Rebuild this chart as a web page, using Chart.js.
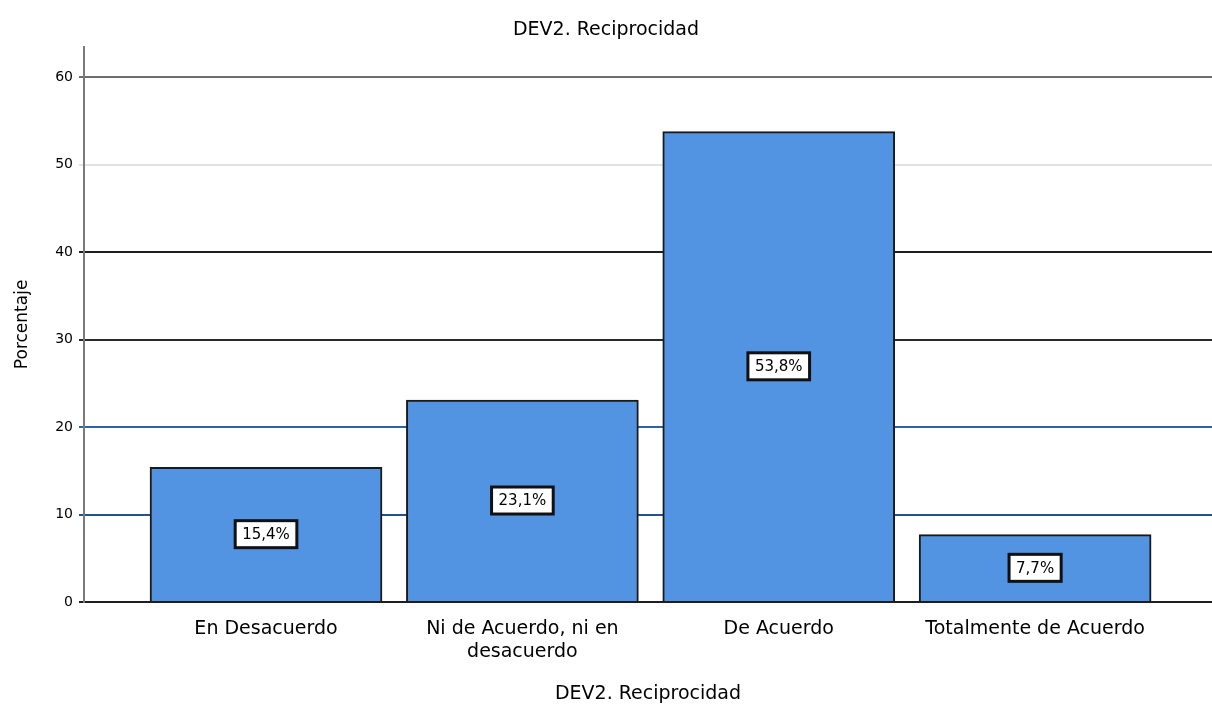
<!DOCTYPE html>
<html>
<head>
<meta charset="utf-8">
<script src="https://cdn.jsdelivr.net/npm/chart.js@4/dist/chart.umd.min.js"></script>
<style>
  html, body { margin: 0; padding: 0; background: #fff; }
  #wrap { width: 1212px; height: 711px; }
</style>
</head>
<body>
<div id="wrap"><canvas id="c" width="1212" height="711"></canvas></div>
<script>
// Categories and percentages
const categories = [
  "En Desacuerdo",
  ["Ni de Acuerdo, ni en", "desacuerdo"],
  "De Acuerdo",
  "Totalmente de Acuerdo"
];
const percentages = [15.4, 23.1, 53.8, 7.7];
const percentLabels = ["15,4%", "23,1%", "53,8%", "7,7%"];
const yTicks = [0, 10, 20, 30, 40, 50, 60];

const FONT = "'DejaVu Sans', 'Liberation Sans', Arial, sans-serif";

// gridline colours, one per y tick value
const gridColours = { 0: "#1e1e1e", 10: "#24528c", 20: "#2c62a6", 30: "#2a2a2a", 40: "#1e1e1e", 50: "#e2e2e2", 60: "#6e6e6e" };

// boxed value labels drawn in the middle of each bar
const valueBoxes = {
  id: "valueBoxes",
  afterDatasetsDraw(chart) {
    const ctx = chart.ctx;
    const meta = chart.getDatasetMeta(0);
    ctx.save();
    ctx.font = "15px " + FONT;
    ctx.textAlign = "center";
    ctx.textBaseline = "middle";
    meta.data.forEach((bar, i) => {
      const txt = percentLabels[i];
      const cy = (bar.y + bar.base) / 2;
      const w = ctx.measureText(txt).width + 14;
      const h = 27;
      ctx.fillStyle = "#ffffff";
      ctx.fillRect(bar.x - w / 2, cy - h / 2, w, h);
      ctx.lineWidth = 3;
      ctx.strokeStyle = "#111";
      ctx.strokeRect(bar.x - w / 2, cy - h / 2, w, h);
      ctx.fillStyle = "#000";
      ctx.fillText(txt, bar.x, cy + 1);
    });
    ctx.restore();
  }
};

new Chart(document.getElementById("c"), {
  type: "bar",
  data: {
    datasets: [{
      data: percentages.map((v, i) => ({ x: i, y: v })),
      backgroundColor: "#5294e2",
      borderColor: "#1a1a1a",
      borderWidth: 2,
      borderSkipped: "bottom",
      barThickness: 232
    }]
  },
  options: {
    responsive: false,
    animation: false,
    layout: { padding: { left: 0, right: 0, top: 0, bottom: 0 } },
    plugins: {
      legend: { display: false },
      tooltip: { enabled: false },
      title: {
        display: true,
        text: "DEV2. Reciprocidad",
        color: "#000",
        font: { family: FONT, size: 19, weight: "normal" },
        padding: { top: 19, bottom: 5 }
      }
    },
    scales: {
      x: {
        type: "linear",
        offset: false,
        min: -0.71,
        max: 3.69,
        afterBuildTicks: s => { s.ticks = categories.map((c, i) => ({ value: i })); },
        afterFit: s => { s.height = 109; },
        grid: { display: false, drawTicks: false },
        border: { display: false },
        ticks: {
          autoSkip: false,
          maxRotation: 0,
          padding: 16,
          color: "#000",
          font: { family: FONT, size: 19 },
          callback: v => categories[v]
        },
        title: {
          display: true,
          text: "DEV2. Reciprocidad",
          color: "#000",
          font: { family: FONT, size: 19 },
          padding: { top: 4, bottom: 6 }
        }
      },
      y: {
        min: 0,
        max: 63.5,
        afterBuildTicks: s => { s.ticks = yTicks.map(v => ({ value: v })); },
        afterFit: s => { s.width = 84; },
        grid: {
          color: c => gridColours[c.tick ? c.tick.value : 0] || "#222",
          lineWidth: 2,
          tickLength: 5,
          drawOnChartArea: true
        },
        border: { display: true, color: "#7a7a7a", width: 2 },
        ticks: {
          color: "#000",
          padding: 6,
          font: { family: FONT, size: 14 }
        },
        title: {
          display: true,
          text: "Porcentaje",
          color: "#000",
          font: { family: FONT, size: 17 },
          padding: { top: 12, bottom: 0 }
        }
      }
    }
  },
  plugins: [valueBoxes]
});
</script>
</body>
</html>
